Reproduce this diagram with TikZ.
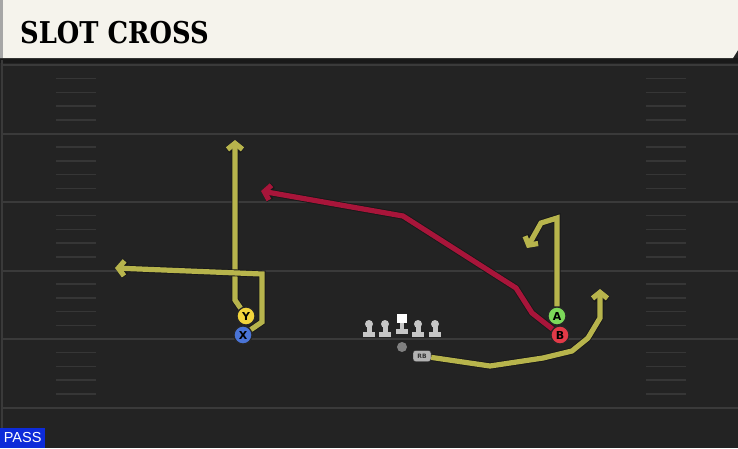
\documentclass[tikz,border=0pt]{standalone}
\usepackage{fontspec}
\newfontfamily\titlefont{DejaVu Serif}
\newfontfamily\labelfont{DejaVu Sans}
\newfontfamily\passfont{Liberation Sans}
\usepackage{xcolor}
\usepackage{tikz}
\usetikzlibrary{positioning,arrows.meta,calc}

\definecolor{field}{HTML}{232323}
\definecolor{yardline}{HTML}{3A3A3A}
\definecolor{hashmark}{HTML}{363636}
\definecolor{cream}{HTML}{F5F3EC}
\definecolor{routeyel}{HTML}{B7B44C}
\definecolor{routered}{HTML}{A8153A}
\definecolor{passblue}{HTML}{0D2BD9}
\definecolor{ylw}{HTML}{F2D43C}
\definecolor{xblue}{HTML}{4A74D6}
\definecolor{agreen}{HTML}{7CD85A}
\definecolor{bred}{HTML}{E23A48}
\definecolor{lineman}{HTML}{C6C6C6}

\begin{document}
\begin{tikzpicture}[x=1pt,y=-1pt,>={Straight Barb[length=6pt,width=15pt]},
  every node/.style={inner sep=0pt},
  player/.style={draw=black!85,line width=1.2pt,circle,minimum size=18pt,font=\labelfont\bfseries\fontsize{11}{11}\selectfont},
  route/.style={->,line width=5.2pt,routeyel,preaction={draw=black!90,line width=7pt}}]
\useasboundingbox (0,0) rectangle (738,448);
\fill[field] (0,0) rectangle (738,448);

  % Field markings
\fill[black!90] (0,58) rectangle (738,63);
\draw[yardline,line width=2pt] (1.5,60) -- (1.5,448);
\foreach \y in {65,133.5,202,270.5,339,407.5}
  \draw[yardline,line width=2pt] (3,\y) -- (738,\y);
\foreach \y in {65,133.5,202,270.5,339}
  \foreach \k in {1,...,4} {
    \draw[hashmark,line width=1.5pt] (56,\y+\k*13.7) -- (96,\y+\k*13.7);
    \draw[hashmark,line width=1.5pt] (646,\y+\k*13.7) -- (686,\y+\k*13.7);
  }

  % Title bar
\fill[cream] (0,0) -- (738,0) -- (738,50) -- (733,58) -- (0,58) -- cycle;
\fill[black!35] (0,0) rectangle (3,58);
\node[anchor=base west,xscale=0.86] (title) at (20,43) {\titlefont\bfseries\fontsize{30}{30}\selectfont SLOT CROSS};

  % Offensive line
\foreach \x in {369,385,418,435} {
  \fill[lineman] (\x,324) circle (4);
  \fill[lineman] (\x-2.5,324) rectangle (\x+2.5,334);
  \fill[lineman] (\x-6,332) rectangle (\x+6,337);
}
\fill[white] (397,314) rectangle (406.5,323);
\fill[lineman] (399.5,323) rectangle (404,331);
\fill[lineman] (396,329) rectangle (408,334);
\node[circle,fill=black!50,minimum size=10pt] (qb) at (402,347) {};
\node[draw=black!85,fill=black!30,rounded corners=2.5pt,minimum width=18pt,minimum height=11pt,font=\labelfont\bfseries\fontsize{6}{6}\selectfont,text=black!80] (RB) at (422,356) {RB};

  % Receivers
\node[player,fill=ylw] (Y) at (246,316) {Y};
\node[player,fill=xblue] (X) at (243,335) {X};
\node[player,fill=agreen] (A) at (557,316) {A};
\node[player,fill=bred] (B) at (560,335) {B};

\coordinate (ytip) at (235,140);
\coordinate (xtip) at (115,268);
\coordinate (btip) at (261,191);
\coordinate (atip) at (527,248);
\coordinate (rbtip) at (600,289);

  % Routes
\draw[route] (Y) -- (235,300) -- (ytip);
\draw[route] (X) -- (262,322) -- (262,274) -- (xtip);
\draw[route,routered] (B) -- (532,313) -- (516,288) -- (403,216) -- (btip);
\draw[route] (A) -- (557,218) -- (541,223) -- (atip);
\draw[route] (RB) -- (490,366) -- (543,358) -- (572,351) -- (588,338) -- (600,318) -- (rbtip);

\node[fill=passblue,minimum width=45pt,minimum height=20pt,anchor=south west,text=white,font=\passfont\fontsize{14.5}{14.5}\selectfont] (pass) at (0,448) {PASS};
\end{tikzpicture}
\end{document}
